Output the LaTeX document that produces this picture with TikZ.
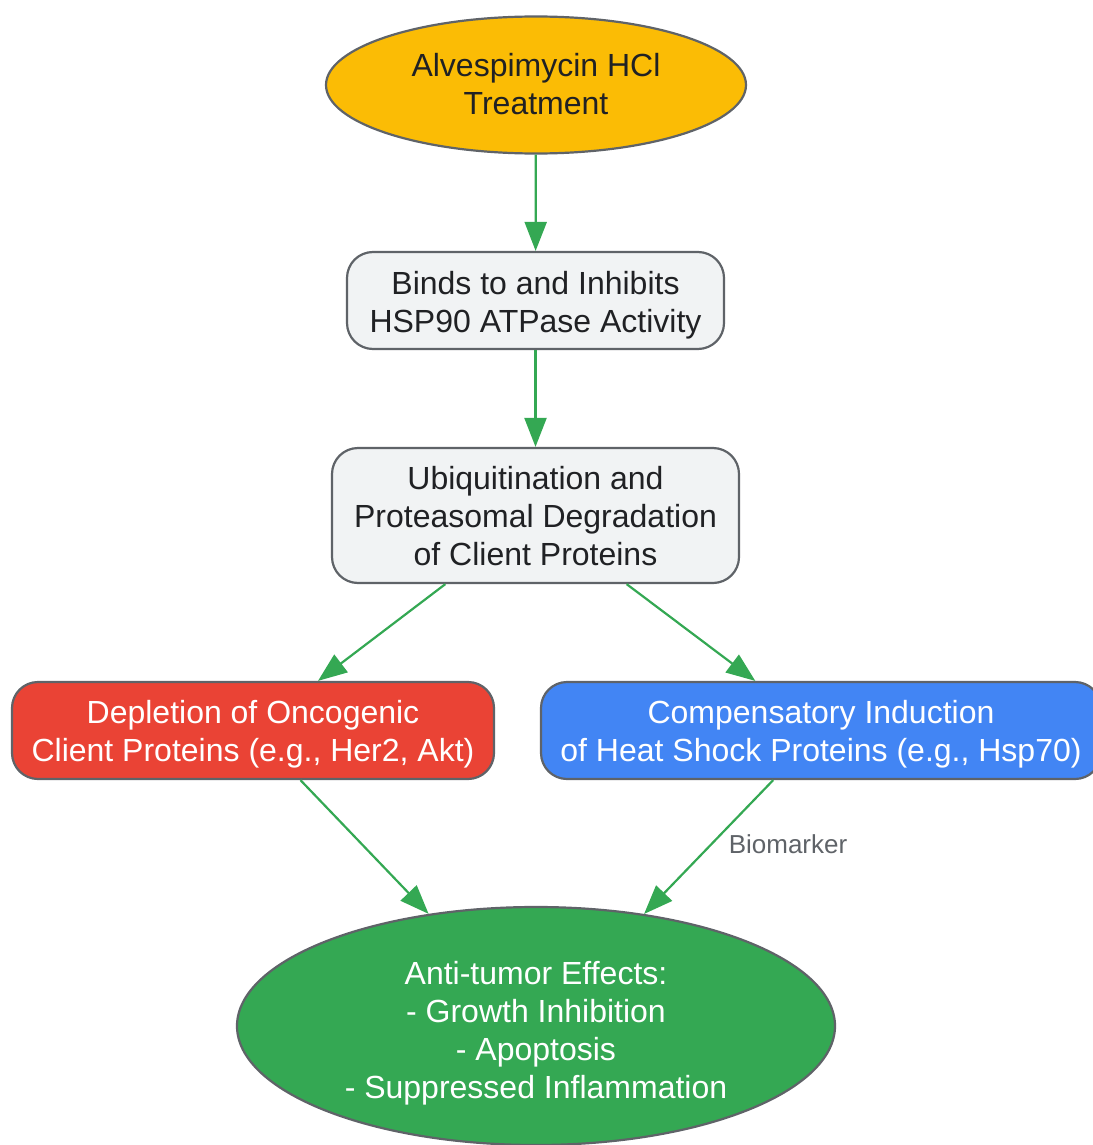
\documentclass[tikz,border=0pt]{standalone}
\usepackage{fontspec}
\setmainfont{Liberation Sans}
\usetikzlibrary{shapes.geometric,arrows.meta}
\definecolor{cyellow}{HTML}{FBBC05}
\definecolor{cgray}{HTML}{F1F3F4}
\definecolor{cred}{HTML}{EA4335}
\definecolor{cblue}{HTML}{4285F4}
\definecolor{cgreen}{HTML}{34A853}
\definecolor{cborder}{HTML}{5F6368}
\definecolor{ctext}{HTML}{202124}
\newcommand\tstrut[1]{\rule{0pt}{#1}}
\begin{document}
\begin{tikzpicture}[x=1pt,y=-1pt,
  base/.style={draw=cborder,line width=2.2pt,inner sep=0pt,align=center,
    font=\fontsize{32}{38}\selectfont,
    execute at end node={\rule[-7pt]{0pt}{7pt}}},
  oval/.style={base,ellipse},
  stepbox/.style={base,rectangle,rounded corners=26pt},
  conn/.style={draw=cgreen,line width=2.2pt,-{Triangle[length=29pt,width=22pt]}},
  lbl/.style={text=cborder,font=\fontsize{26}{30}\selectfont,inner sep=0pt}]
\useasboundingbox (0,0) rectangle (1092,1145);
\node[oval,fill=cyellow,text=ctext,minimum width=420pt,minimum height=137pt] (a) at (536,85) {\tstrut{29pt}Alvespimycin HCl\\Treatment};
\node[stepbox,fill=cgray,text=ctext,minimum width=377pt,minimum height=97pt] (b) at (535.5,300.5) {\tstrut{32.5pt}Binds to and Inhibits\\HSP90 ATPase Activity};
\node[stepbox,fill=cgray,text=ctext,minimum width=407pt,minimum height=135pt] (c) at (535.5,515.5) {\tstrut{31pt}Ubiquitination and\\Proteasomal Degradation\\of Client Proteins};
\node[stepbox,fill=cred,text=white,minimum width=482pt,minimum height=97pt] (d) at (253,730.5) {\tstrut{31pt}Depletion of Oncogenic\\Client Proteins (e.g., Her2, Akt)};
\node[stepbox,fill=cblue,text=white,minimum width=560pt,minimum height=97pt] (e) at (821,730.5) {\tstrut{31pt}Compensatory Induction\\of Heat Shock Proteins (e.g., Hsp70)};
\node[oval,fill=cgreen,text=white,minimum width=598pt,minimum height=238pt] (f) at (536,1026) {\tstrut{37pt}Anti-tumor Effects:\\- Growth Inhibition\\- Apoptosis\\- Suppressed Inflammation};
\draw[conn] (a) -- (b);
\draw[conn] (b) -- (c);
\draw[conn] (c) -- (d);
\draw[conn] (c) -- (e);
\draw[conn] (d) -- (f);
\draw[conn] (e) -- (f);
\node[lbl] (bm) at (788,844) {Biomarker};
\end{tikzpicture}
\end{document}
